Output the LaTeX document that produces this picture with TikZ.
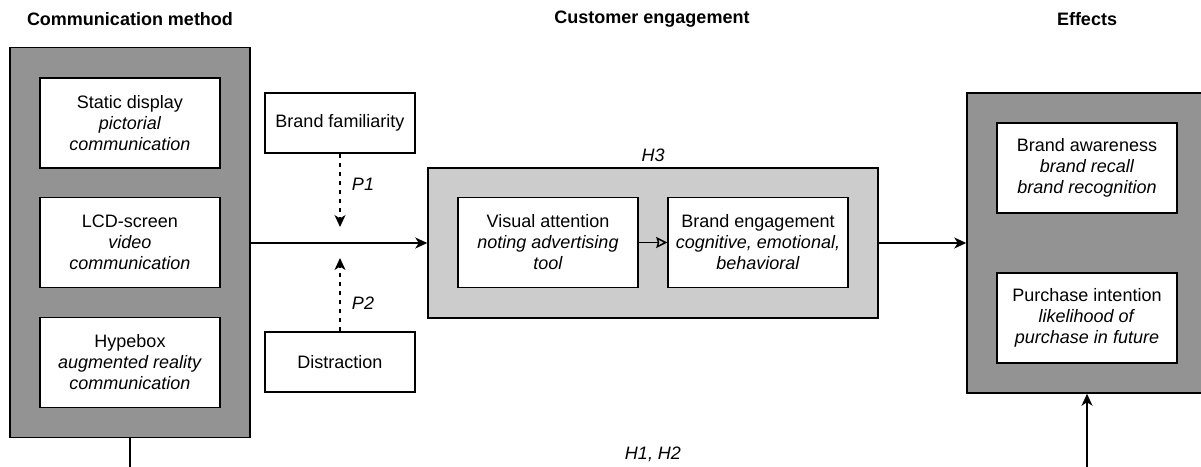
\documentclass[tikz,border=0pt]{standalone}
\usepackage{fontspec}
\setmainfont{Liberation Sans}
\usetikzlibrary{arrows.meta}
\definecolor{darkg}{RGB}{147,147,147}
\definecolor{lightg}{RGB}{204,204,204}
\begin{document}
\begin{tikzpicture}[x=1pt,y=-1pt,
  every node/.style={font=\fontsize{18}{21}\selectfont, align=center, inner sep=0pt},
  outerbox/.style={draw, line width=1.5pt, fill=darkg, minimum width=240pt},
  midbox/.style={draw, line width=1.5pt, fill=lightg, minimum width=450pt, minimum height=150pt},
  innerbox/.style={draw, line width=1.5pt, fill=white, minimum width=180pt, minimum height=90pt},
  sidebox/.style={draw, line width=1.5pt, fill=white, minimum width=150pt, minimum height=60pt},
  title/.style={font=\fontsize{18}{21}\selectfont\bfseries},
  lbl/.style={font=\fontsize{18}{21}\selectfont\itshape},
  conn/.style={line width=1.5pt, -{Stealth[length=12pt,width=11pt,inset=3.5pt]}},
  dconn/.style={line width=1.5pt, dash pattern=on 4.5pt off 4.5pt, -{Stealth[length=12pt,width=11pt,inset=3.5pt]}},
  oconn/.style={line width=1.5pt, -{Stealth[open,fill=lightg,length=11pt,width=11pt,inset=1.5pt,line width=1.5pt]}},
  plain/.style={line width=1.5pt}
]
\useasboundingbox (0,0) rectangle (1201,466);
% titles
\node[title] (t1) at (130,19) {Communication method};
\node[title] (t2) at (652,19) {Customer engagement};
\node[title] (t3) at (1087,19) {Effects};
% left
\node[outerbox, minimum height=390pt] (left) at (130,242.5) {};
\node[innerbox] (s1) at (130,123) {Static display\\\textit{pictorial}\\\textit{communication}};
\node[innerbox] (s2) at (130,242.5) {LCD-screen\\\textit{video}\\\textit{communication}};
\node[innerbox] (s3) at (130,362.5) {Hypebox\\\textit{augmented reality}\\\textit{communication}};
% moderators
\node[sidebox] (bf) at (340,123) {Brand familiarity};
\node[sidebox] (di) at (340,362) {Distraction};
\coordinate (p1end) at (340,227);
\coordinate (p2end) at (340,258);
% middle
\node[midbox] (mid) at (653,243) {};
\node[lbl] (h3) at (653,155) {H3};
\node[innerbox] (va) at (548,242.5) {Visual attention\\\textit{noting advertising}\\\textit{tool}};
\node[innerbox] (be) at (758,242.5) {Brand engagement\\\textit{cognitive, emotional,}\\\textit{behavioral}};
% right
\node[outerbox, minimum height=300pt] (right) at (1087,243) {};
\node[innerbox] (ba) at (1087,168) {Brand awareness\\\textit{brand recall}\\\textit{brand recognition}};
\node[innerbox] (pi) at (1087,318) {Purchase intention\\\textit{likelihood of}\\\textit{purchase in future}};
% connectors
\draw[conn] (left.east |- mid.west) -- (mid.west);
\draw[dconn] (bf.south) -- (p1end);
\draw[dconn] (di.north) -- (p2end);
\node[lbl] (p1) at (363,184) {P1};
\node[lbl] (p2) at (363,303) {P2};
\draw[oconn] (va.east) -- (be.west);
\draw[conn] (mid.east) -- (mid.east -| right.west);
\coordinate (bl) at (130,500);
\coordinate (br) at (1087,500);
\draw[conn] (left.south) -- (bl) -- (br) -- (right.south);
\node[lbl] (h12) at (653,454) {H1, H2};
\end{tikzpicture}
\end{document}
